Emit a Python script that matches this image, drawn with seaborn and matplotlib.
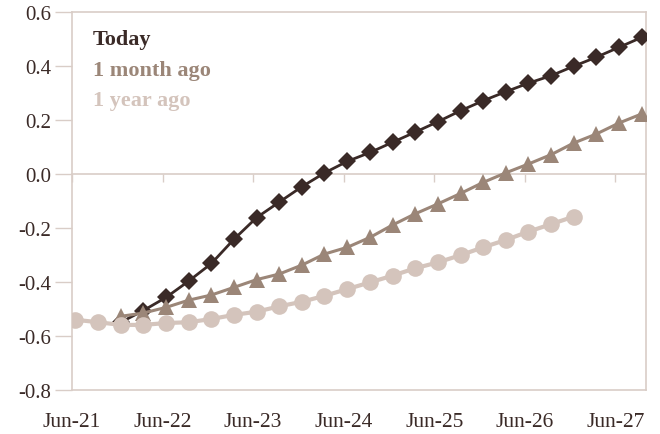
import matplotlib
matplotlib.use("Agg")
import matplotlib.pyplot as plt
import seaborn as sns
import pandas as pd
import numpy as np

# ---- data ----
dates = pd.date_range("2021-06-01", periods=26, freq="3MS") + pd.Timedelta(days=14)
tick_labels = ["Jun-21", "Jun-22", "Jun-23", "Jun-24", "Jun-25", "Jun-26", "Jun-27"]
tick_dates = pd.to_datetime(["2021-06-01", "2022-06-01", "2023-06-01", "2024-06-01",
                             "2025-06-01", "2026-06-01", "2027-06-01"])
y_ticks = [-0.8, -0.6, -0.4, -0.2, 0.0, 0.2, 0.4, 0.6]
y_tick_labels = ["-0.8", "-0.6", "-0.4", "-0.2", "0.0", "0.2", "0.4", "0.6"]

today = [-0.55, -0.507, -0.458, -0.397, -0.332, -0.243, -0.162, -0.104, -0.047, 0.004,
         0.047, 0.080, 0.118, 0.155, 0.194, 0.235, 0.272, 0.305, 0.337, 0.365,
         0.400, 0.433, 0.470, 0.507]
month_ago = [-0.528, -0.516, -0.495, -0.468, -0.449, -0.421, -0.392, -0.371, -0.338, -0.297,
             -0.272, -0.235, -0.189, -0.148, -0.111, -0.072, -0.031, 0.004, 0.037, 0.072,
             0.115, 0.148, 0.189, 0.223]
year_ago = [-0.541, -0.550, -0.560, -0.560, -0.553, -0.550, -0.538, -0.523, -0.511, -0.491,
            -0.474, -0.452, -0.427, -0.402, -0.377, -0.350, -0.328, -0.301, -0.272, -0.245,
            -0.214, -0.186, -0.158]

names = ["Today", "1 month ago", "1 year ago"]
colors = ["#3a2a27", "#9b8678", "#d4c4bc"]
axis_col = "#d9cdc7"
text_col = "#3a2a27"

df_today = pd.DataFrame({"date": dates[2:2 + len(today)], "value": today})
df_month = pd.DataFrame({"date": dates[2:2 + len(month_ago)], "value": month_ago})
df_year = pd.DataFrame({"date": dates[:len(year_ago)], "value": year_ago})

sns.set_theme(style="white")
plt.rcParams["font.family"] = ["Liberation Serif", "DejaVu Serif"]

fig = plt.figure(figsize=(6.6, 4.35), dpi=100)
ax = fig.add_axes([72 / 660, 1 - 390.6 / 435, (645.7 - 72) / 660, (390.6 - 13.3) / 435])

sns.lineplot(data=df_today, x="date", y="value", ax=ax, color=colors[0], lw=2,
             marker="D", markersize=9.5, markeredgewidth=0, label=names[0], zorder=3)
sns.lineplot(data=df_month, x="date", y="value", ax=ax, color=colors[1], lw=2.2,
             marker="^", markersize=11, markeredgewidth=0, label=names[1], zorder=4)
sns.lineplot(data=df_year, x="date", y="value", ax=ax, color=colors[2], lw=3,
             marker="o", markersize=12, markeredgewidth=0, label=names[2], zorder=5)

ax.set_xlim(pd.Timestamp("2021-06-01"), pd.Timestamp("2027-10-01"))
ax.set_ylim(-0.8, 0.6)
ax.set_yticks(y_ticks)
ax.set_yticklabels(y_tick_labels)
ax.set_xticks(tick_dates)
ax.set_xticklabels(tick_labels)
ax.set_xlabel("")
ax.set_ylabel("")

for s in ax.spines.values():
    s.set_color(axis_col)
    s.set_linewidth(1.2)
ax.tick_params(axis="x", length=0, pad=16, labelsize=15.5, labelcolor=text_col)
ax.tick_params(axis="y", length=12, width=1, color=axis_col, direction="out",
               pad=3, labelsize=15, labelcolor=text_col, left=True)

# zero line with tick marks
zero_pos = 0.8 / 1.4
sec = ax.secondary_xaxis(zero_pos)
sec.set_alignment("bottom")
sec.set_xticks(tick_dates)
sec.tick_params(axis="x", length=6, width=1, color=axis_col, direction="out",
                labelbottom=False, labeltop=False)
for s in sec.spines.values():
    s.set_color(axis_col)
    s.set_linewidth(1.2)

leg = ax.legend(loc="upper left", bbox_to_anchor=(0.002, 1.01), frameon=False,
                handlelength=0, handletextpad=0, labelspacing=0.45,
                prop={"family": ["Liberation Serif"], "weight": "bold", "size": 16})
for h in leg.legend_handles:
    h.set_visible(False)
for t, c in zip(leg.get_texts(), colors):
    t.set_color(c)

fig.savefig("out.png", dpi=100, facecolor="white")
